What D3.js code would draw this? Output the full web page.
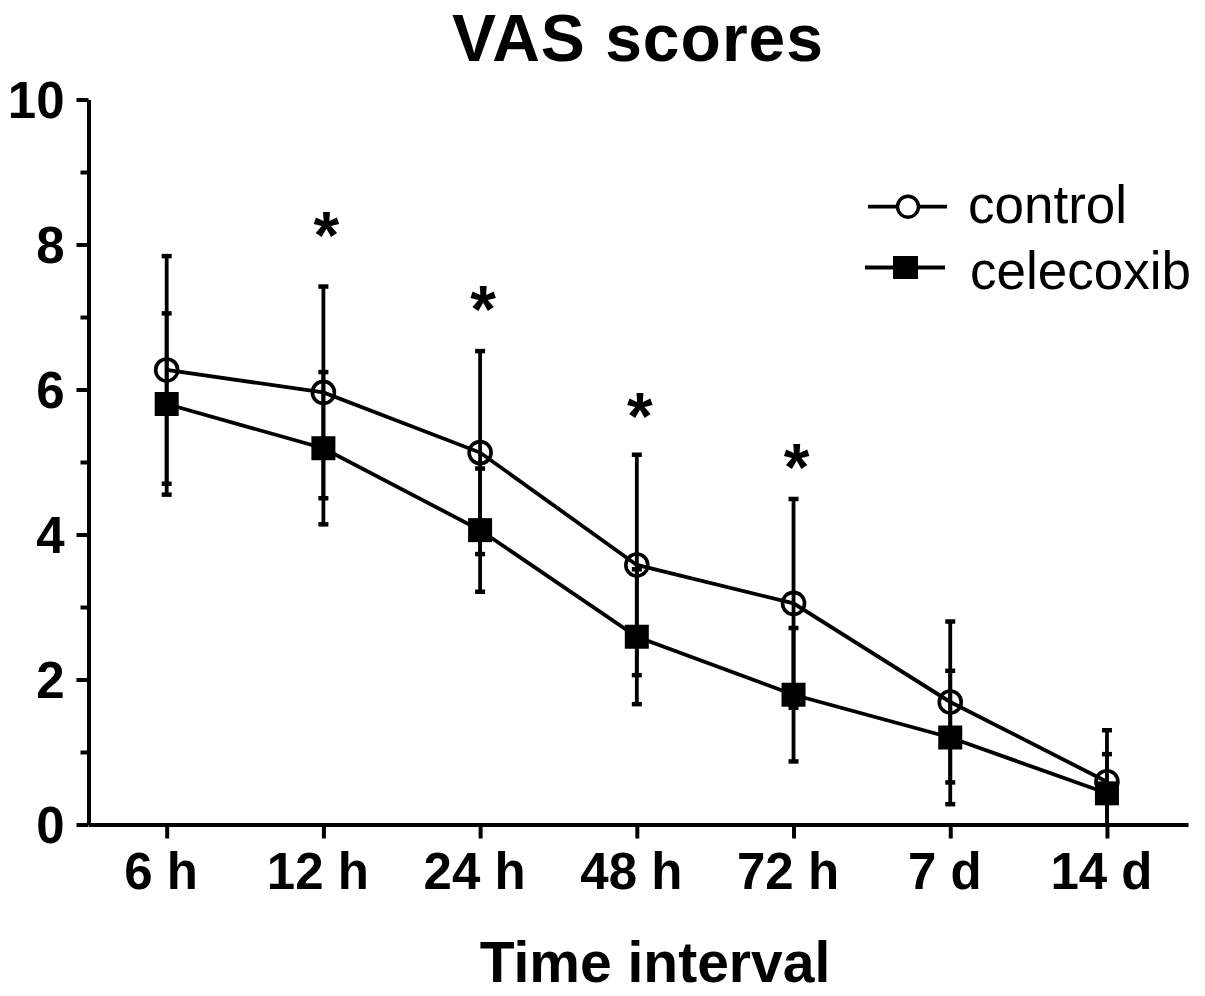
<!DOCTYPE html>
<html>
<head>
<meta charset="utf-8">
<script src="https://cdn.jsdelivr.net/npm/d3@7/dist/d3.min.js"></script>
<style>
  html, body { margin: 0; padding: 0; background: #fff; }
  svg { display: block; font-family: "Liberation Sans", Arial, Helvetica, sans-serif; }
</style>
</head>
<body>
<svg id="chart" width="1205" height="996"></svg>
<script>
// ---- data ----
const categories = ["6 h", "12 h", "24 h", "48 h", "72 h", "7 d", "14 d"];
const controlMean = [6.27, 5.96, 5.13, 3.58, 3.05, 1.69, 0.59];
const controlSD   = [1.57, 1.46, 1.40, 1.52, 1.44, 1.11, 0.71];
const celecoxibMean = [5.80, 5.19, 4.06, 2.59, 1.79, 1.20, 0.43];
const celecoxibSD   = [1.25, 1.05, 0.85, 0.93, 0.92, 0.92, 0.54];
const starCategories = ["12 h", "24 h", "48 h", "72 h"];
const starValues = [8.26, 7.23, 5.76, 5.06];
const yMajorTicks = [0, 2, 4, 6, 8, 10];
const yMinorTicks = [1, 3, 5, 7, 9];
const seriesNames = ["control", "celecoxib"];

// ---- layout ----
const svg = d3.select("#chart");
const x = d3.scalePoint().domain(categories).range([88.5, 1188]).padding(0.508).align(0.491);
const y = d3.scaleLinear().domain([0, 10]).range([824.5, 99.5]);

const AXW = 4;
const fontBold = "bold";

// title
svg.append("text").attr("x", 638).attr("y", 61).attr("text-anchor", "middle")
  .attr("font-size", 66).attr("font-weight", fontBold).attr("letter-spacing", 1).text("VAS scores");

// x label
svg.append("text").attr("x", 655).attr("y", 982).attr("text-anchor", "middle")
  .attr("font-size", 57).attr("font-weight", fontBold).text("Time interval");

// y axis minor ticks
const gyMinor = svg.append("g").attr("transform", "translate(88.5,0)")
  .call(d3.axisLeft(y).tickValues(yMinorTicks).tickSize(8).tickSizeOuter(0).tickFormat(""));
gyMinor.select(".domain").remove();
gyMinor.selectAll("line").attr("stroke", "#000").attr("stroke-width", AXW);

// y axis major
const gy = svg.append("g").attr("transform", "translate(88.5,0)")
  .call(d3.axisLeft(y).tickValues(yMajorTicks).tickSize(12).tickSizeOuter(0).tickPadding(12).tickFormat(d3.format("d")));
gy.select(".domain").attr("stroke", "#000").attr("stroke-width", AXW);
gy.selectAll("line").attr("stroke", "#000").attr("stroke-width", AXW);
gy.selectAll("text").attr("font-size", 51).attr("font-weight", fontBold)
  .attr("font-family", "Liberation Sans, Arial, sans-serif").attr("fill", "#000").attr("dy", "0.35em");

// x axis
const gx = svg.append("g").attr("transform", "translate(0,824.5)")
  .call(d3.axisBottom(x).tickSize(14).tickSizeOuter(0));
gx.select(".domain").attr("stroke", "#000").attr("stroke-width", AXW);
gx.selectAll("line").attr("stroke", "#000").attr("stroke-width", AXW);
gx.selectAll("text").attr("font-size", 51).attr("font-weight", fontBold)
  .attr("font-family", "Liberation Sans, Arial, sans-serif").attr("fill", "#000")
  .attr("y", 64.5).attr("dy", null).attr("dx", -6);

// data helpers
function rows(mean, sd) {
  return categories.map((c, i) => ({ c, m: mean[i], s: sd[i] }));
}
const ctrl = rows(controlMean, controlSD);
const cele = rows(celecoxibMean, celecoxibSD);

const plot = svg.append("g");
const LW = 3.8;
const CAP = 5;

function errorBars(data) {
  const g = plot.append("g").attr("stroke", "#000").attr("stroke-width", LW).attr("fill", "none");
  data.forEach(d => {
    const lo = Math.max(0, d.m - d.s), hi = d.m + d.s;
    const cx = x(d.c);
    g.append("line").attr("x1", cx).attr("x2", cx).attr("y1", y(lo)).attr("y2", y(hi));
    g.append("line").attr("x1", cx - CAP).attr("x2", cx + CAP).attr("y1", y(hi)).attr("y2", y(hi)).attr("stroke-width", 4.5);
    if (d.m - d.s > 0) {
      g.append("line").attr("x1", cx - CAP).attr("x2", cx + CAP).attr("y1", y(lo)).attr("y2", y(lo)).attr("stroke-width", 4.5);
    }
  });
}
errorBars(ctrl);
errorBars(cele);

const line = d3.line().x(d => x(d.c)).y(d => y(d.m));
plot.append("path").datum(ctrl).attr("d", line).attr("fill", "none").attr("stroke", "#000").attr("stroke-width", LW);
plot.append("path").datum(cele).attr("d", line).attr("fill", "none").attr("stroke", "#000").attr("stroke-width", LW);

// control markers (open circles)
plot.selectAll(".cm").data(ctrl).enter().append("circle")
  .attr("cx", d => x(d.c)).attr("cy", d => y(d.m)).attr("r", 11)
  .attr("fill", "none").attr("stroke", "#000").attr("stroke-width", 3.6);

// celecoxib markers (filled squares)
const SQ = 24;
plot.selectAll(".sm").data(cele).enter().append("rect")
  .attr("x", d => x(d.c) - SQ / 2).attr("y", d => y(d.m) - SQ / 2)
  .attr("width", SQ).attr("height", SQ).attr("fill", "#000");

// significance asterisks
svg.selectAll(".star").data(starCategories).enter().append("text")
  .attr("x", d => x(d) + 3).attr("y", (d, i) => y(starValues[i]) + 32)
  .attr("text-anchor", "middle").attr("font-size", 66).attr("font-weight", fontBold).text("*");

// legend
const lg = svg.append("g");
lg.append("line").attr("x1", 868).attr("x2", 947).attr("y1", 206.7).attr("y2", 206.7)
  .attr("stroke", "#000").attr("stroke-width", LW);
lg.append("circle").attr("cx", 908).attr("cy", 206.7).attr("r", 10.5)
  .attr("fill", "#fff").attr("stroke", "#000").attr("stroke-width", 3.4);
lg.append("text").attr("x", 968).attr("y", 223).attr("font-size", 53).text(seriesNames[0]);

lg.append("line").attr("x1", 865).attr("x2", 945).attr("y1", 267.5).attr("y2", 267.5)
  .attr("stroke", "#000").attr("stroke-width", LW);
lg.append("rect").attr("x", 893).attr("y", 256).attr("width", 25).attr("height", 23).attr("fill", "#000");
lg.append("text").attr("x", 970).attr("y", 288.5).attr("font-size", 53).text(seriesNames[1]);
</script>
</body>
</html>
